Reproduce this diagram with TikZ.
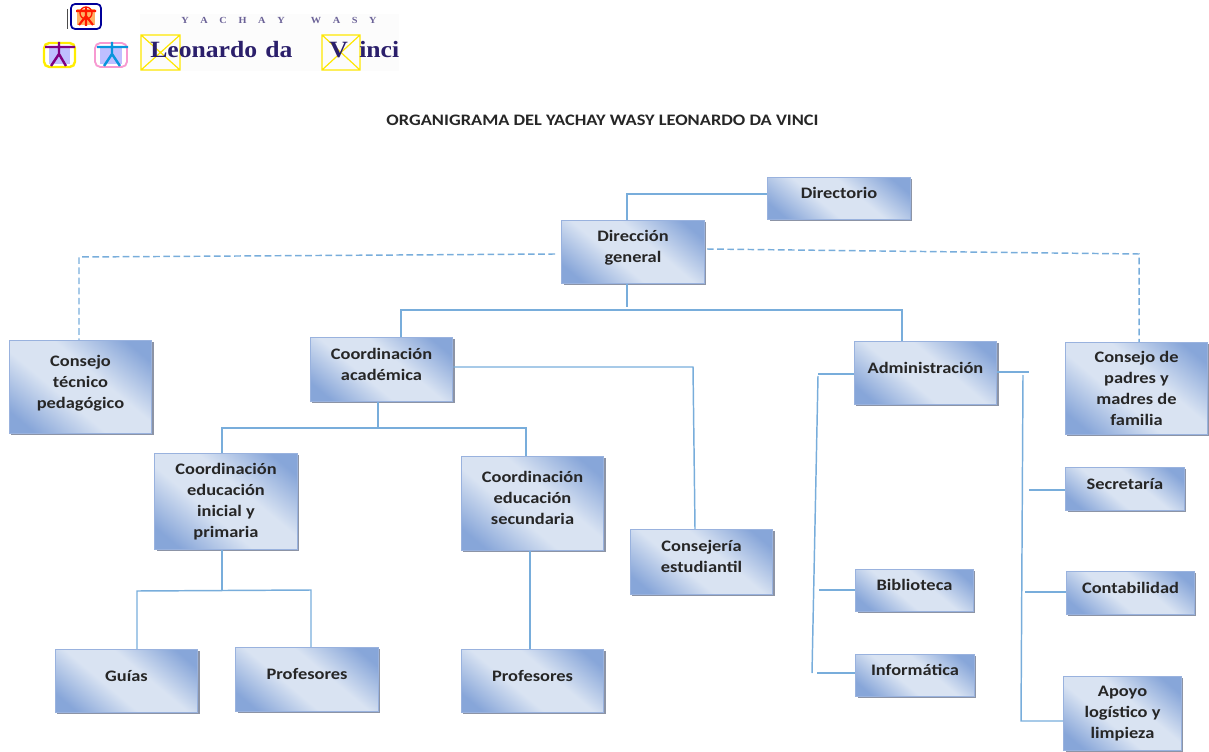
\documentclass[tikz,border=0pt]{standalone}
\usepackage{fontspec}
\setmainfont[FakeStretch=1.15]{Carlito}
\newfontfamily\logofont[FakeStretch=1.1]{Liberation Serif}
\usetikzlibrary{shadows}
\definecolor{boxdark}{rgb}{0.53,0.65,0.85}
\definecolor{boxlight}{rgb}{0.85,0.89,0.95}
\definecolor{boxedge}{rgb}{0.60,0.70,0.87}
\definecolor{boxshadow}{rgb}{0.55,0.58,0.65}
\definecolor{linkblue}{rgb}{0.47,0.68,0.86}
\definecolor{logonavy}{rgb}{0.17,0.12,0.42}
\pgfdeclareverticalshading{boxshade}{100bp}{color(0bp)=(boxdark); color(22bp)=(boxdark); color(42bp)=(boxlight); color(58bp)=(boxlight); color(78bp)=(boxdark); color(100bp)=(boxdark)}
\newcommand{\up}{\\[-8pt]\mbox{}}
\tikzset{
	orgbox/.style = {rectangle, draw=boxedge, line width=0.9pt, shade, shading=boxshade, shading angle=-40,
		drop shadow={shadow xshift=1.4pt, shadow yshift=-1.4pt, fill=boxshadow, opacity=1},
		align=center, inner sep=0pt, font=\bfseries\fontsize{12}{15.75}\selectfont, text=black!85,
		minimum width=107pt},
	link/.style = {draw=linkblue, line width=1.1pt},
	linkdash/.style = {draw=linkblue, line width=1.1pt, dash pattern=on 5pt off 2.6pt},
	logoline/.style = {draw=yellow!90!orange, line width=0.9pt},
	logotext/.style = {inner sep=0pt, text=logonavy, font=\logofont\bfseries\fontsize{17.5}{18}\selectfont}
}
\begin{document}
\begin{tikzpicture}[x=0.75pt, y=-0.75pt]
	\useasboundingbox (0,0) rectangle (1209,752);
	
	%logo
	\fill [black!1] (140,14) rectangle (399,71);
	\node [inner sep=0pt, text=logonavy!70, font=\logofont\bfseries\fontsize{7}{8}\selectfont] (yachay) at (279,20) {Y\hspace{1.25em}A\hspace{1.25em}C\hspace{1.25em}H\hspace{1.25em}A\hspace{1.25em}Y\hspace{2.8em}W\hspace{1.25em}A\hspace{1.25em}S\hspace{1.25em}Y};
	\draw [logoline] (141,35) rectangle (180,70) (141,35) -- (180,70) (141,70) -- (180,35);
	\draw [logoline] (322,35) rectangle (360,70) (322,35) -- (360,70) (322,70) -- (360,35);
	\node [logotext, anchor=base west] (leonardo) at (150,58) {Leonardo\hspace{0.35em}da};
	\node [logotext, anchor=base west] (vletter) at (329,58) {V};
	\node [logotext, anchor=base west] (inci) at (359,58) {inci};
	
	\draw [black!70, line width=1pt] (67.5,9) -- (67.5,29);
	\draw [blue!60!black, line width=1.3pt, rounded corners=3pt] (71,4) rectangle (101,29);
	\fill [orange!60] (77,9) rectangle (95,25);
	\draw [red!80!orange, line width=1.6pt] (76,11) -- (96,11) (86,7) -- (86,26) (79,25) -- (86,16) -- (93,25);
	\draw [red!80!orange, line width=1pt] (86,13) circle (6);
	
	\draw [yellow!95!orange, line width=1.8pt, rounded corners=4pt] (44,43) rectangle (75,67);
	\fill [blue!25] (49,47) rectangle (70,64);
	\draw [violet, line width=1.8pt] (45,47) -- (75,47) (59,42) -- (59,54) (51,66) -- (59,54) -- (66,66);
	
	\draw [magenta!40, line width=1.4pt, rounded corners=4pt] (95,43) rectangle (127,67);
	\fill [blue!25] (100,47) rectangle (122,64);
	\draw [cyan!80!blue, line width=1.8pt] (97,47) -- (128,47) (112,42) -- (112,54) (104,66) -- (112,54) -- (120,66);
	
	\node [inner sep=0pt, text=black!85, font=\bfseries\fontsize{12}{14}\selectfont] (title) at (602.5,120) {ORGANIGRAMA DEL YACHAY WASY LEONARDO DA VINCI};
	
	%boxes
	\node [orgbox, minimum height=63pt*0.75] (dirgen) at (633,252) {Dirección\\general\up};
	\node [orgbox, minimum height=42pt*0.75] (directorio) at (839,198.5) {Directorio\up};
	
	\node [orgbox, minimum height=64pt*0.75] (coordacad) at (381.5,369.5) {Coordinación\\académica\up};
	\node [orgbox, minimum height=93pt*0.75, left of = coordacad, node distance = 225.75pt, yshift=-13.125pt] (consejotec) {Consejo\\técnico\\pedagógico\up};
	\node [orgbox, minimum height=63pt*0.75, right of = coordacad, node distance = 408pt, yshift=-2.625pt] (admin) {Administración\up};
	\node [orgbox, minimum height=92pt*0.75, right of = admin, node distance = 158.25pt, yshift=-11.625pt] (consejopad) {Consejo de\\padres y\\madres de\\familia};
	
	\node [orgbox, minimum height=96pt*0.75] (coordini) at (226,501.5) {Coordinación\\educación\\inicial y\\primaria};
	\node [orgbox, minimum height=94pt*0.75, right of = coordini, node distance = 229.875pt, yshift=-1.5pt] (coordsec) {Coordinación\\educación\\secundaria\up};
	\node [orgbox, minimum height=65pt*0.75, right of = coordsec, node distance = 126.75pt, yshift=-43.875pt] (consejeria) {Consejería\\estudiantil\up};
	
	\node [orgbox, minimum height=63pt*0.75] (guias) at (126.5,681) {Guías\up};
	\node [orgbox, minimum height=64pt*0.75, right of = guias, node distance = 135.375pt, yshift=1.125pt] (prof1) {Profesores\up};
	\node [orgbox, minimum height=63pt*0.75, below of = coordsec, node distance = 133.125pt] (prof2) {Profesores\up};
	
	\node [orgbox, minimum width=89pt, minimum height=43pt*0.75, below of = consejopad, node distance = 75.375pt, xshift=-8.625pt] (secretaria) {Secretaría\up};
	\node [orgbox, minimum width=96pt, minimum height=43pt*0.75, below of = secretaria, node distance = 78pt, xshift=4.125pt] (contab) {Contabilidad\up};
	\node [orgbox, minimum width=88pt, minimum height=74pt*0.75, below of = contab, node distance = 90.375pt, xshift=-6pt] (apoyo) {Apoyo\\logístico y\\limpieza};
	
	\node [orgbox, minimum width=88pt, minimum height=42pt*0.75] (biblio) at (914.5,590.5) {Biblioteca\up};
	\node [orgbox, minimum width=89pt, minimum height=42pt*0.75, below of = biblio, node distance = 63.75pt, xshift=0.375pt] (inform) {Informática\up};
	
	%junctions
	\coordinate (jdir) at (627,194);
	\coordinate (jgen) at (627,307);
	\coordinate (jtop) at (401,310);
	\coordinate (jtopr) at (902,310);
	\coordinate (jtec) at (79,257);
	\coordinate (jpad) at (1139,254);
	\coordinate (jcons) at (693,367);
	\coordinate (jconsb) at (695,529);
	\coordinate (jacad) at (378,428);
	\coordinate (jini) at (222,428);
	\coordinate (jsec) at (526,428);
	\coordinate (jinid) at (222,590);
	\coordinate (jguia) at (137,591);
	\coordinate (jprof) at (311,590);
	\coordinate (jprofs) at (530,600);
	
	\coordinate (jadml) at (818,374);
	\coordinate (jadmt) at (818,376);
	\coordinate (jadmb) at (812,673);
	\coordinate (jbib) at (819,590);
	\coordinate (jinf) at (817,673);
	\coordinate (jadr) at (1029,372);
	\coordinate (jvert) at (1023,375);
	\coordinate (japo) at (1021,721);
	\coordinate (jsecr) at (1029,490);
	\coordinate (jcont) at (1025,592);
	
	\coordinate (jgenl) at (555,254);
	\coordinate (jgenr) at (707,249);
	
	%links
	\path [link] (dirgen.north -| jdir) -- (jdir) -- (directorio.west |- jdir);
	\path [linkdash] (jgenl) -- (jtec) -- (consejotec.north -| jtec);
	\path [linkdash] (jgenr) -- (jpad) -- (consejopad.north -| jpad);
	
	\path [link] (dirgen.south -| jgen) -- (jgen);
	\path [link] (coordacad.north -| jtop) -- (jtop) -- (jtopr) -- (admin.north -| jtopr);
	
	\path [link] (coordacad.east |- jcons) -- (jcons) -- (consejeria.north -| jconsb);
	\path [link] (coordacad.south -| jacad) -- (jacad);
	\path [link] (coordini.north -| jini) -- (jini) -- (jsec) -- (coordsec.north -| jsec);
	
	\path [link] (coordini.south -| jinid) -- (jinid);
	\path [link] (guias.north -| jguia) -- (jguia) -- (jprof) -- (prof1.north -| jprof);
	\path [link] (coordsec.south -| jprofs) -- (prof2.north -| jprofs);
	
	\path [link] (admin.west |- jadml) -- (jadml);
	\path [link] (jadmt) -- (jadmb);
	\path [link] (jbib) -- (biblio.west |- jbib);
	\path [link] (jinf) -- (inform.west |- jinf);
	
	\path [link] (admin.east |- jadr) -- (jadr);
	\path [link] (jvert) -- (japo) -- (apoyo.west |- japo);
	\path [link] (jsecr) -- (secretaria.west |- jsecr);
	\path [link] (jcont) -- (contab.west |- jcont);
	
\end{tikzpicture}
\end{document}
